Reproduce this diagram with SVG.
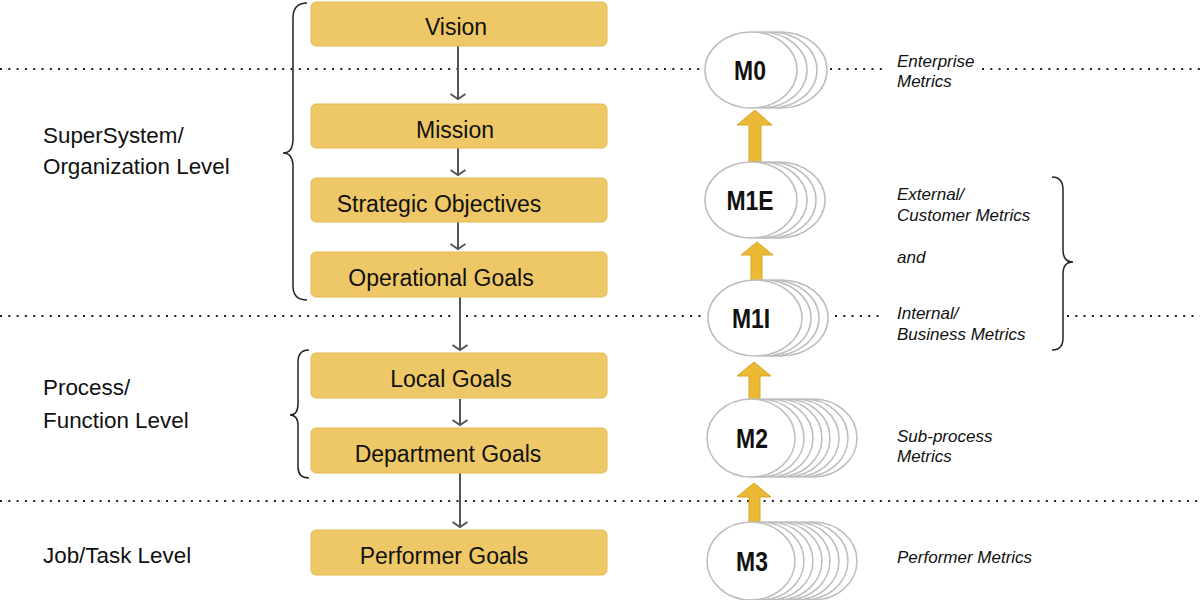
<svg xmlns="http://www.w3.org/2000/svg" width="1200" height="600" viewBox="0 0 1200 600">
<defs>
<style>
.box{fill:#EEC866;stroke:#E4B94F;stroke-width:1}
.bt{font-family:"Liberation Sans",Arial,sans-serif;font-size:23px;fill:#111;text-anchor:middle}
.lvl{font-family:"Liberation Sans",Arial,sans-serif;font-size:22.4px;fill:#111}
.met{font-family:"Liberation Sans",Arial,sans-serif;font-size:17px;font-style:italic;fill:#111}
.dot{stroke:#222;stroke-width:2.2;stroke-dasharray:2 6.3;fill:none}
.br{fill:none;stroke:#222;stroke-width:1.5}
.con{stroke:#555;stroke-width:2;fill:none}
.el{fill:#fff;stroke:#bdbdbd;stroke-width:1.5}
.mt{font-family:"Liberation Sans",Arial,sans-serif;font-size:27px;font-weight:bold;fill:#111;text-anchor:middle}
.ya{fill:#EBB934;stroke:#D9A627;stroke-width:1}
</style>
<marker id="ah" viewBox="0 0 8 16" refX="6" refY="8" markerWidth="8" markerHeight="16" markerUnits="userSpaceOnUse" orient="auto">
<path d="M1,0.5 L6,8 L1,15.5" fill="none" stroke="#555" stroke-width="2"/>
</marker>
</defs>

<g id="dotted-lines">
<line class="dot" x1="0" y1="69" x2="703" y2="69"/>
<line class="dot" x1="830" y1="69" x2="888" y2="69"/>
<line class="dot" x1="982" y1="69" x2="1200" y2="69"/>
<line class="dot" x1="0" y1="316" x2="453" y2="316"/>
<line class="dot" x1="466" y1="316" x2="704" y2="316"/>
<line class="dot" x1="835" y1="316" x2="884" y2="316"/>
<line class="dot" x1="1067" y1="316" x2="1200" y2="316"/>
<line class="dot" x1="0" y1="501" x2="1200" y2="501"/>
</g>

<g id="level-labels">
<text class="lvl" x="43" y="143">SuperSystem/</text>
<text class="lvl" x="43" y="174">Organization Level</text>
<text class="lvl" x="43" y="395">Process/</text>
<text class="lvl" x="43" y="428">Function Level</text>
<text class="lvl" x="43" y="563">Job/Task Level</text>
</g>

<g id="braces">
<path class="br" d="M307,3 Q293,3 293,18 L293,139 Q293,153 283,153 Q293,153 293,167 L293,286 Q293,300 307,300"/>
<path class="br" d="M309,350 Q298,350 298,362 L298,404 Q298,415 290,415 Q298,415 298,426 L298,467 Q298,478 309,478"/>
<path class="br" d="M1052,177 Q1063,177 1063,190 L1063,250 Q1063,262 1073,262 Q1063,262 1063,274 L1063,338 Q1063,350 1052,350"/>
</g>

<g id="connectors">
<line class="con" x1="458" y1="46" x2="458" y2="99" marker-end="url(#ah)"/>
<line class="con" x1="458" y1="148" x2="458" y2="175" marker-end="url(#ah)"/>
<line class="con" x1="458" y1="222" x2="458" y2="249" marker-end="url(#ah)"/>
<line class="con" x1="460" y1="297" x2="460" y2="350" marker-end="url(#ah)"/>
<line class="con" x1="460" y1="399" x2="460" y2="425" marker-end="url(#ah)"/>
<line class="con" x1="460" y1="473" x2="460" y2="527" marker-end="url(#ah)"/>
<polygon class="ya" points="755,110 772,125 761,125 761,162 749,162 749,125 737,125"/>
<polygon class="ya" points="757,242 773,255 762,255 762,282 751,282 751,255 741,255"/>
<polygon class="ya" points="754,362 771,376 760,376 760,400 749,400 749,376 737,376"/>
<polygon class="ya" points="754,483 771,497 760,497 760,523 749,523 749,497 737,497"/>
</g>

<g id="goal-vision"><rect class="box" x="311" y="2" width="296" height="44" rx="5"/><text class="bt" x="456" y="35">Vision</text></g>
<g id="goal-mission"><rect class="box" x="311" y="104" width="296" height="44" rx="5"/><text class="bt" x="455" y="138">Mission</text></g>
<g id="goal-strategic"><rect class="box" x="311" y="178" width="296" height="44" rx="5"/><text class="bt" x="439" y="212">Strategic Objectives</text></g>
<g id="goal-operational"><rect class="box" x="311" y="252" width="296" height="45" rx="5"/><text class="bt" x="441" y="286">Operational Goals</text></g>
<g id="goal-local"><rect class="box" x="311" y="353" width="296" height="45" rx="5"/><text class="bt" x="451" y="387">Local Goals</text></g>
<g id="goal-department"><rect class="box" x="311" y="428" width="296" height="45" rx="5"/><text class="bt" x="448" y="462">Department Goals</text></g>
<g id="goal-performer"><rect class="box" x="311" y="530" width="296" height="45" rx="5"/><text class="bt" x="444" y="564">Performer Goals</text></g>

<g id="metric-m0">
<ellipse class="el" cx="781" cy="70" rx="46" ry="38"/>
<ellipse class="el" cx="771" cy="70" rx="46" ry="38"/>
<ellipse class="el" cx="761" cy="70" rx="46" ry="38"/>
<ellipse class="el" cx="751" cy="70" rx="46" ry="38"/>
<text class="mt" transform="translate(750,80) scale(0.85,1)">M0</text>
</g>
<g id="metric-m1e">
<ellipse class="el" cx="779" cy="200" rx="46" ry="38"/>
<ellipse class="el" cx="770" cy="200" rx="46" ry="38"/>
<ellipse class="el" cx="761" cy="200" rx="46" ry="38"/>
<ellipse class="el" cx="751" cy="200" rx="46" ry="38"/>
<text class="mt" transform="translate(750,210) scale(0.85,1)">M1E</text>
</g>
<g id="metric-m1i">
<ellipse class="el" cx="781" cy="318" rx="47" ry="38"/>
<ellipse class="el" cx="772" cy="318" rx="47" ry="38"/>
<ellipse class="el" cx="764" cy="318" rx="47" ry="38"/>
<ellipse class="el" cx="755" cy="318" rx="47" ry="38"/>
<text class="mt" transform="translate(751,328) scale(0.85,1)">M1I</text>
</g>
<g id="metric-m2">
<ellipse class="el" cx="813" cy="438" rx="44" ry="39"/>
<ellipse class="el" cx="804" cy="438" rx="44" ry="39"/>
<ellipse class="el" cx="795" cy="438" rx="44" ry="39"/>
<ellipse class="el" cx="786" cy="438" rx="44" ry="39"/>
<ellipse class="el" cx="778" cy="438" rx="44" ry="39"/>
<ellipse class="el" cx="769" cy="438" rx="44" ry="39"/>
<ellipse class="el" cx="760" cy="438" rx="44" ry="39"/>
<ellipse class="el" cx="751" cy="438" rx="44" ry="39"/>
<text class="mt" transform="translate(752,448) scale(0.85,1)">M2</text>
</g>
<g id="metric-m3">
<ellipse class="el" cx="813" cy="561" rx="44" ry="39"/>
<ellipse class="el" cx="804" cy="561" rx="44" ry="39"/>
<ellipse class="el" cx="795" cy="561" rx="44" ry="39"/>
<ellipse class="el" cx="786" cy="561" rx="44" ry="39"/>
<ellipse class="el" cx="778" cy="561" rx="44" ry="39"/>
<ellipse class="el" cx="769" cy="561" rx="44" ry="39"/>
<ellipse class="el" cx="760" cy="561" rx="44" ry="39"/>
<ellipse class="el" cx="751" cy="561" rx="44" ry="39"/>
<text class="mt" transform="translate(752,571) scale(0.85,1)">M3</text>
</g>

<g id="metric-labels">
<text class="met" x="897" y="67">Enterprise</text>
<text class="met" x="897" y="87">Metrics</text>
<text class="met" x="897" y="200">External/</text>
<text class="met" x="897" y="221">Customer Metrics</text>
<text class="met" x="897" y="263">and</text>
<text class="met" x="897" y="319">Internal/</text>
<text class="met" x="897" y="340">Business Metrics</text>
<text class="met" x="897" y="442">Sub-process</text>
<text class="met" x="897" y="462">Metrics</text>
<text class="met" x="897" y="563">Performer Metrics</text>
</g>
</svg>
